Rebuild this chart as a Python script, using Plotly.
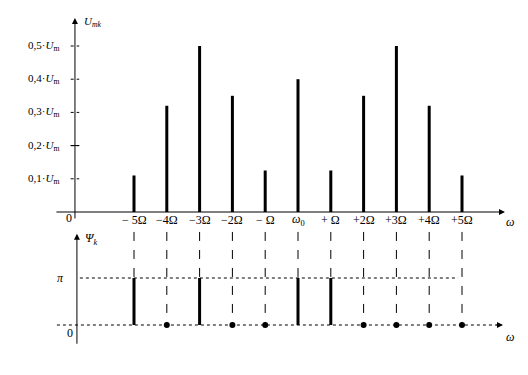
import plotly.graph_objects as go

# ---- data ----
harmonics = [-5, -4, -3, -2, -1, 0, 1, 2, 3, 4, 5]
freq_labels = ["− 5Ω", "−4Ω", "−3Ω", "−2Ω", "− Ω", "<i>ω</i><sub>0</sub>", "+ Ω", "+2Ω", "+3Ω", "+4Ω", "+5Ω"]
amplitudes = [0.11, 0.32, 0.50, 0.35, 0.125, 0.40, 0.125, 0.35, 0.50, 0.32, 0.11]
phases_pi = [1, 0, 1, 0, 0, 1, 1, 0, 0, 0, 0]   # phase in units of pi
amp_ticks = [0.1, 0.2, 0.3, 0.4, 0.5]
amp_tick_labels = ["0,1·<i>U</i><sub>m</sub>", "0,2·<i>U</i><sub>m</sub>", "0,3·<i>U</i><sub>m</sub>",
                   "0,4·<i>U</i><sub>m</sub>", "0,5·<i>U</i><sub>m</sub>"]

FONT = "Liberation Serif, Times New Roman, serif"
PAGE_OFF = 8             # default page body margin
W, H = 528 - PAGE_OFF, 375 - PAGE_OFF
split = 226              # page row dividing the panels
PX = 32.8                # page px per harmonic step
X0 = 298                 # page x of omega_0

fig = go.Figure()

# ---- upper panel: amplitudes ----
bx, by = [], []
for k, a in zip(harmonics, amplitudes):
    bx += [k, k, None]
    by += [0, a, None]
fig.add_trace(go.Scatter(x=bx, y=by, mode="lines", line=dict(color="black", width=3),
                         xaxis="x", yaxis="y", hoverinfo="skip"))

# y tick marks
tx, ty = [], []
for v in amp_ticks:
    tx += [-6.93, -6.67, None]
    ty += [v, v, None]
fig.add_trace(go.Scatter(x=tx, y=ty, mode="lines", line=dict(color="black", width=1, dash="dot"),
                         xaxis="x", yaxis="y", hoverinfo="skip"))
fig.add_trace(go.Scatter(x=[-6.93, -6.67], y=[0.2, 0.2], mode="lines", line=dict(color="black", width=1),
                         xaxis="x", yaxis="y", hoverinfo="skip"))

# ---- lower panel: phases ----
cx, cy = [], []
for k in harmonics:
    cx += [k, k, None]
    cy += [1.98, 0, None]
fig.add_trace(go.Scatter(x=cx, y=cy, mode="lines", line=dict(color="black", width=1, dash="dash"),
                         xaxis="x2", yaxis="y2", hoverinfo="skip"))
fig.add_trace(go.Scatter(x=[-6.65, 4.88], y=[1, 1], mode="lines",
                         line=dict(color="black", width=1, dash="dot"),
                         xaxis="x2", yaxis="y2", hoverinfo="skip"))
fig.add_trace(go.Scatter(x=[-7.35, 6.1], y=[0, 0], mode="lines",
                         line=dict(color="black", width=1, dash="dot"),
                         xaxis="x2", yaxis="y2", hoverinfo="skip"))
px_, py_ = [], []
zx, zy = [], []
for k, p in zip(harmonics, phases_pi):
    if p:
        px_ += [k, k, None]
        py_ += [0, p, None]
    else:
        zx.append(k)
        zy.append(0)
fig.add_trace(go.Scatter(x=px_, y=py_, mode="lines", line=dict(color="black", width=3),
                         xaxis="x2", yaxis="y2", hoverinfo="skip"))
fig.add_trace(go.Scatter(x=zx, y=zy, mode="markers", marker=dict(color="black", size=6),
                         xaxis="x2", yaxis="y2", hoverinfo="skip"))

# ---- axes drawn with arrows ----
ann = []
def arrow(x, y, ax, ay, xr, yr):
    ann.append(dict(x=x, y=y, ax=ax, ay=ay, xref=xr, yref=yr, axref=xr, ayref=yr,
                    showarrow=True, arrowhead=2, arrowsize=1.2, arrowwidth=1,
                    arrowcolor="black", standoff=0, text=""))

arrow(6.31, 0, -7.41, 0, "x", "y")
arrow(-6.80, 0.584, -6.80, -0.024, "x", "y")
arrow(6.25, 0, 6.0, 0, "x2", "y2")
arrow(-6.74, 1.94, -6.74, -0.43, "x2", "y2")

def txt(x, y, s, xr, yr, xa="center", size=12):
    ann.append(dict(x=x, y=y, xref=xr, yref=yr, text=s, showarrow=False, xanchor=xa,
                    yanchor="middle", font=dict(family=FONT, size=size, color="black")))

for k, lab in zip(harmonics, freq_labels):
    txt(k, -0.024, lab, "x", "y")
for v, lab in zip(amp_ticks, amp_tick_labels):
    txt(-7.22, v, lab, "x", "y", xa="right", size=11)

txt(-6.98, -0.018, "0", "x", "y")
txt(6.45, -0.03, "<i>ω</i>", "x", "y")
txt(-6.25, 0.572, "<i>U</i><sub><i>mk</i></sub>", "x", "y", size=11)
txt(-6.30, 1.83, "<i>Ψ</i><sub><i>k</i></sub>", "x2", "y2")
txt(-7.25, 1.0, "<i>π</i>", "x2", "y2")
txt(-6.95, -0.17, "0", "x2", "y2")
txt(6.45, -0.25, "<i>ω</i>", "x2", "y2")

xr = [(PAGE_OFF - X0) / PX, (528 - X0) / PX]
common_x = dict(range=xr, visible=False, fixedrange=True)
split_frac = 1 - (split - PAGE_OFF) / H
fig.update_layout(
    width=W, height=H, margin=dict(l=0, r=0, t=0, b=0),
    paper_bgcolor="white", plot_bgcolor="white", showlegend=False,
    xaxis=dict(**common_x, anchor="y"),
    xaxis2=dict(**common_x, anchor="y2"),
    yaxis=dict(domain=[split_frac, 1], range=[(212 - split) / 332, (212 - PAGE_OFF) / 332], visible=False),
    yaxis2=dict(domain=[0, split_frac], range=[(325 - 375) / 47, (325 - split) / 47], visible=False),
    annotations=ann,
)

fig.write_html("out.html")
